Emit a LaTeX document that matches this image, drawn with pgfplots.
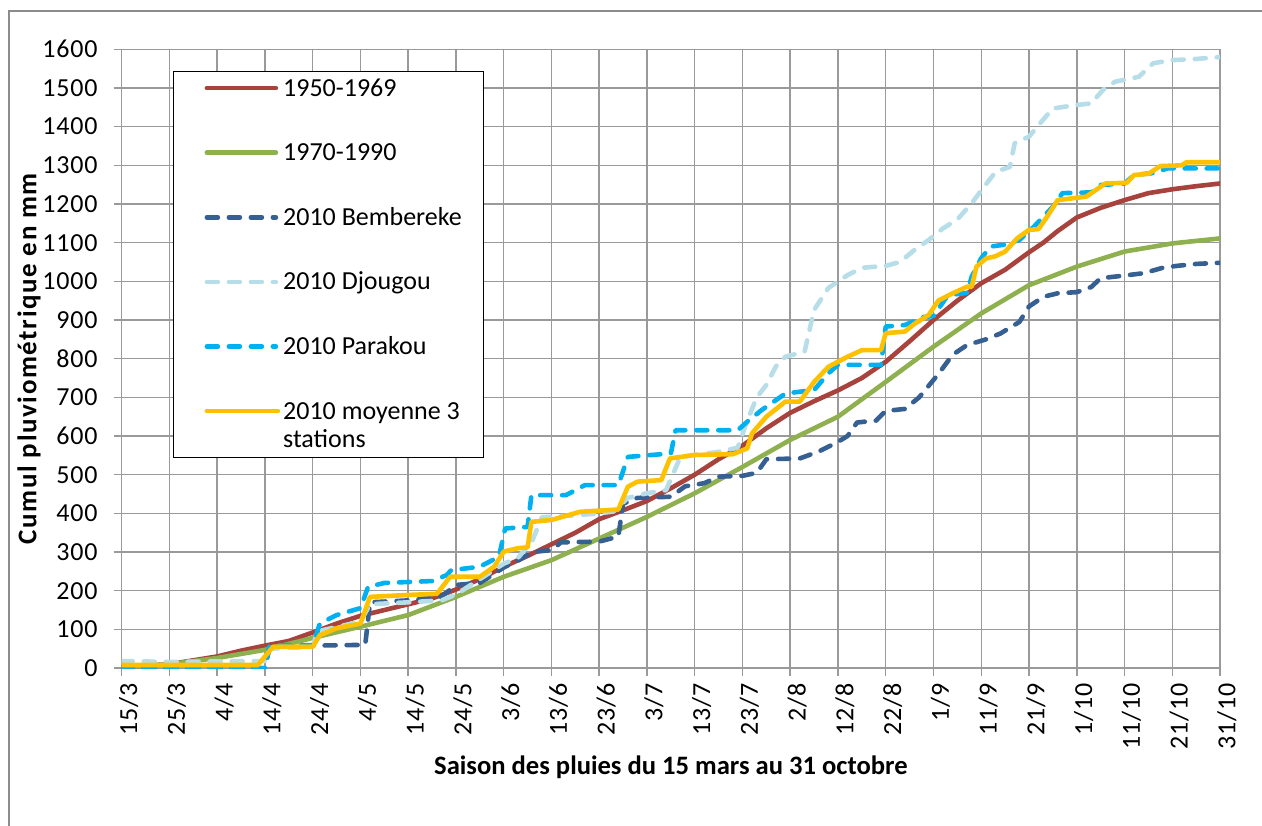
\documentclass[border=0pt]{standalone}
\usepackage{fontspec}
\setmainfont{Carlito}
\usepackage{pgfplots}
\pgfplotsset{compat=1.18}
\usetikzlibrary{calc}
\definecolor{cRed}{HTML}{A8423D}
\definecolor{cGreen}{HTML}{8FB04E}
\definecolor{cBemb}{HTML}{376092}
\definecolor{cDjou}{HTML}{B7DEE8}
\definecolor{cPara}{HTML}{00B0F0}
\definecolor{cMoy}{HTML}{FFC000}
\definecolor{gridgray}{HTML}{9A9A9A}
\definecolor{framegray}{HTML}{8C8C8C}
\pgfplotsset{
  deeplegend/.style={legend image code/.code={\path (0pt,-15.5pt); \path (0pt,0pt);
    \draw[##1] (6.5pt,4pt) -- (42pt,4pt);}},
}
\begin{document}
\begin{tikzpicture}
\begin{axis}[
  scale only axis, width=549.2pt, height=309.4pt,
  xmin=0, xmax=230, ymin=0, ymax=1600,
  xtick={0,10,...,230},
  xticklabels={15/3,25/3,4/4,14/4,24/4,4/5,14/5,24/5,3/6,13/6,23/6,3/7,13/7,23/7,2/8,12/8,22/8,1/9,11/9,21/9,1/10,11/10,21/10,31/10},
  ytick={0,100,...,1600},
  grid=major, major grid style={color=gridgray, line width=0.75pt},
  axis line style={gridgray, line width=0.75pt},
  tick pos=left, tick align=outside, major tick length=4pt,
  tick style={gridgray, line width=0.75pt},
  /pgf/number format/assume math mode=true,
  /pgf/number format/1000 sep={},
  ticklabel style={font=\fontsize{13}{14}\selectfont\addfontfeatures{LetterSpace=3.3}},
  xticklabel style={rotate=90, anchor=east, yshift=-3.5pt},
  yticklabel style={xshift=-4.5pt},
  xlabel={Saison des pluies du 15 mars au 31 octobre},
  ylabel={Cumul pluviométrique en mm},
  xlabel style={font=\fontsize{13.3}{15}\selectfont\bfseries, yshift=3.5pt},
  ylabel style={font=\fontsize{13.5}{15}\selectfont\bfseries\addfontfeatures{LetterSpace=6}, yshift=-6pt},
  legend style={at={(0.0467,0.965)}, anchor=north west, draw=black, line width=0.6pt,
    fill=white, font=\fontsize{13}{14}\selectfont,
    row sep=21pt, column sep=1.5pt, cells={anchor=base west},
    inner xsep=9pt, inner ysep=2.5pt, nodes={inner sep=0pt}},
  legend image code/.code={\path (0pt,0pt); \draw[#1] (6.5pt,4pt) -- (41pt,4pt);},
  every axis plot/.append style={line width=2.3pt, line cap=round, line join=round},
  cdash/.style={dash pattern=on 5.5pt off 5.5pt},
]
\coordinate (bl) at (rel axis cs:0,0);
\coordinate (tr) at (rel axis cs:1,1);
% 1950-1969
\addplot[cRed] coordinates {
(0,3) (10,10) (20,30) (25,45) (30,58) (35,70) (40,92) (45,115) (50,135) (55,150)
(60,165) (65,180) (70,203) (75,230) (80,262) (85,290) (90,320) (95,350) (100,385)
(105,408) (110,432) (115,465) (120,500) (125,540) (130,575) (135,620) (140,660)
(145,690) (150,718) (155,750) (160,792) (165,845) (170,900) (175,950) (180,995)
(185,1030) (190,1075) (193,1100) (196,1130) (200,1165) (205,1190) (210,1210)
(215,1228) (220,1238) (225,1246) (230,1253)
};
\addlegendentry{\strut 1950-1969}
% 1970-1990
\addplot[cGreen] coordinates {
(0,2) (10,10) (20,26) (30,47) (40,78) (50,107) (60,137) (70,184) (80,236) (90,279)
(100,335) (110,391) (120,452) (130,520) (140,590) (150,650) (160,740) (170,831)
(180,917) (190,990) (200,1038) (210,1077) (220,1098) (230,1111)
};
\addlegendentry{\strut 1970-1990}
% 2010 Bembereke
\addplot[cBemb, cdash] coordinates {
(0,0) (30,0) (31,55) (40,58) (51,60) (52,170) (60,175) (67,185) (70,215) (75,220)
(80,260) (83,278) (86,300) (90,305) (92,325) (100,327) (104,340) (105,425) (108,440)
(115,443) (118,470) (122,478) (125,495) (130,497) (133,505) (135,540) (142,542)
(146,560) (150,585) (152,600) (154,635) (158,640) (160,665) (164,670) (167,700)
(171,760) (174,810) (177,835) (181,850) (184,865) (186,880) (188,895) (190,935)
(193,960) (196,969) (200,972) (203,985) (205,1008) (210,1015) (214,1021) (218,1035)
(221,1040) (225,1045) (230,1048)
};
\addlegendentry{\strut 2010 Bembereke}
% 2010 Djougou
\addplot[cDjou, cdash] coordinates {
(0,18) (10,16) (20,17) (30,18) (31,50) (40,55) (41,95) (50,120) (52,165) (60,170)
(67,175) (70,190) (75,230) (80,270) (83,285) (86,330) (88,390) (95,395) (100,400)
(103,405) (106,440) (110,452) (114,460) (117,546) (125,559) (129,570) (131,640)
(133,700) (135,732) (137,780) (139,805) (143,818) (145,926) (148,983) (152,1016)
(155,1035) (160,1040) (163,1050) (166,1081) (169,1107) (172,1137) (175,1160)
(178,1202) (180,1235) (183,1283) (186,1296) (187,1357) (190,1374) (192,1404)
(195,1447) (200,1456) (203,1460) (205.5,1495) (208,1516) (213,1529) (216,1564)
(220,1572) (225,1575) (230,1580)
};
\addlegendentry{\strut 2010 Djougou}
% 2010 Parakou
\addplot[cPara, cdash] coordinates {
(0,0) (30,0) (31,59) (40,59) (41.5,115) (45,137) (50,155) (51.6,210) (55,220)
(65,225) (68,240) (69,253) (75,262) (79,288) (80.3,361) (85,365) (85.8,447) (93,447)
(97,473) (104,473) (106,546) (115,555) (116,615) (129,615) (131,637) (134,667)
(139,710) (145,719) (148,762) (150,784) (159,784) (160,883) (164,887) (168,908)
(170,910) (173,964) (177,970) (178,1012) (180,1060) (182,1090) (185,1095) (188,1107)
(191,1141) (195,1193) (197,1228) (203,1230) (205,1249) (210,1253) (212,1275)
(216,1280) (219,1292) (230,1292)
};
\addlegendentry{\strut 2010 Parakou}
% 2010 moyenne 3 stations
\addplot[cMoy, deeplegend] coordinates {
(0,8) (28.5,8) (31.7,55) (40,55) (41.5,85) (45,103) (50,115) (52,184) (60,189)
(66,192) (68.8,236) (75,236) (78,262) (80,301) (83,310) (85,312) (85.8,378) (90,383)
(96,404) (104,410) (106,469) (108,482) (113,486) (114.8,542) (120,551) (128,553)
(131,568) (132,607) (135,650) (139,689) (142,689) (145,740) (148,779) (152,805)
(155,822) (159,822) (160,866) (164,870) (166,890) (169,913) (171,950) (174,969)
(177,986) (178,986) (179,1038) (181,1059) (183,1065) (185,1077) (187.5,1111)
(190,1133) (192,1135) (194,1171) (196,1210) (202,1219) (203.5,1232) (206,1253)
(210.5,1255) (212,1275) (215,1278) (217.5,1298) (222,1300) (223,1308) (230,1308)
};
\addlegendentry{\parbox[t]{91pt}{\raggedright\strut 2010 moyenne 3\\stations}}
\end{axis}
\draw[framegray, line width=1pt] ($(bl)+(-56.35pt,-100pt)$) |- ($(tr)+(100pt,19.15pt)$);
\pgfresetboundingbox
\path ($(bl)+(-60.85pt,-78.5pt)$) rectangle ($(tr)+(21pt,24.65pt)$);
\end{tikzpicture}
\end{document}
